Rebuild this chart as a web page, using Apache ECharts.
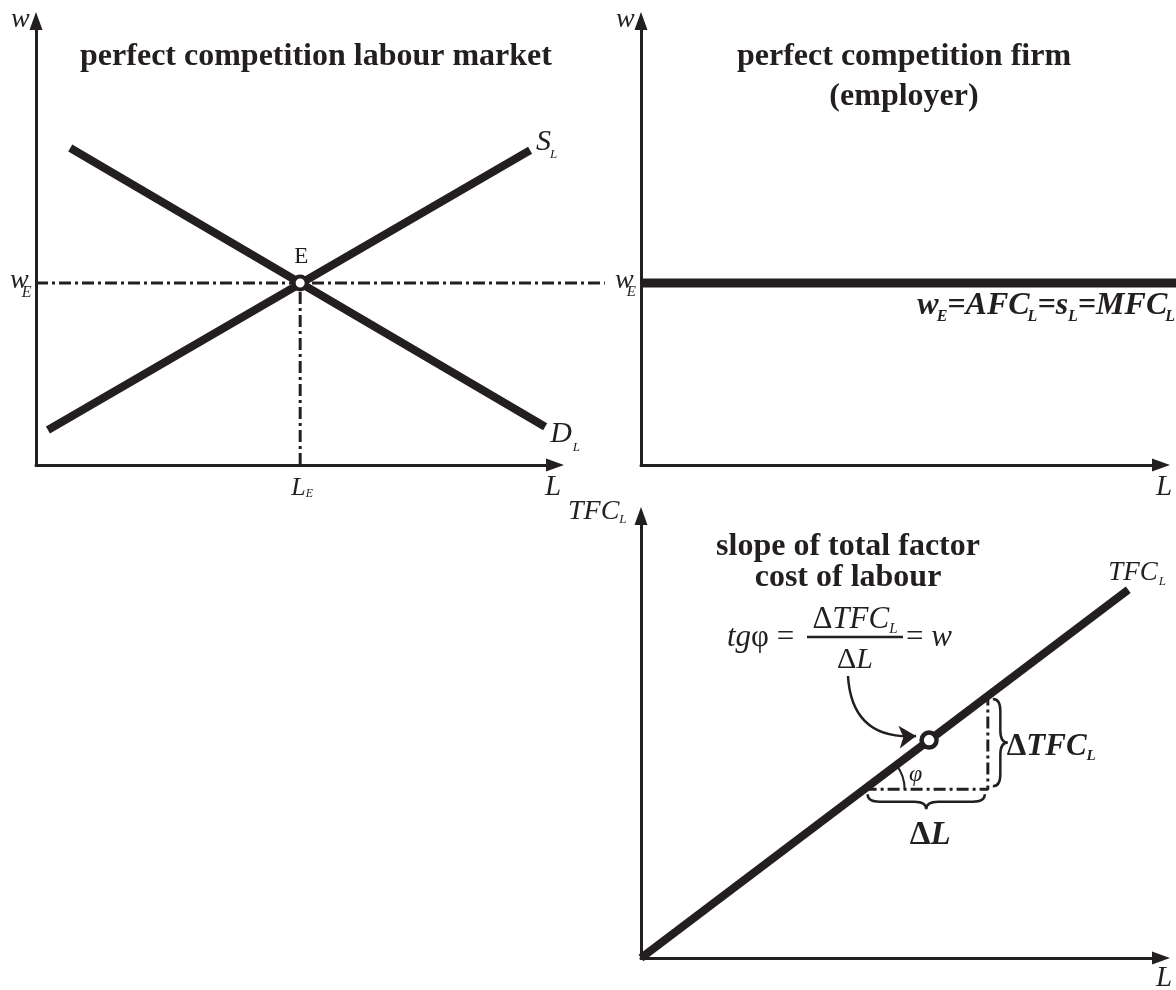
<!DOCTYPE html>
<html><head><meta charset="utf-8">
<script src="https://cdn.jsdelivr.net/npm/echarts@6/dist/echarts.min.js"></script>
<style>html,body{margin:0;padding:0;background:#fff}#c{width:1176px;height:990px}</style>
</head><body><div id="c"></div>
<script>
// ---------- DATA (axis units 0..100 in every panel) ----------
// Panel 1: perfect competition labour market
const L_E = 50.9;
const w_E = 41.0;
const supplyL = [[2.3, 7.9], [95.2, 70.9]];
const demandL = [[6.6, 71.4], [98.1, 8.6]];
const guideEnd = 109.6;               // horizontal guide runs on into panel 2
// Panel 2: perfect competition firm
const firmWage = [[0, w_E], [104, w_E]];
// Panel 3: total factor cost of labour
const tfcLine = [[0, 0], [93.7, 83.3]];
const tfcPoint = [55.4, 49.3];
const dL = [43.0, 66.7];              // ΔL span (x)
const dTFC = [38.2, 59.3];            // ΔTFC span (y)
const arrowCurve = [[39.8, 63.8], [52.9, 50.2]];
const titles = ['perfect competition labour market', 'perfect competition firm', '(employer)', 'slope of total factor', 'cost of labour'];

// ---------- CHART ----------
const INK = '#231f20';
const FAM = '"Liberation Serif", "Times New Roman", serif';
const DASHDOT = [12, 4, 3, 4];
const chart = echarts.init(document.getElementById('c'), null, {renderer: 'canvas'});

const grids = [
  {left: 36, top: 21, width: 519, height: 444},
  {left: 641, top: 21, width: 520, height: 444},
  {left: 641, top: 516, width: 520, height: 442}
];
function ax(i) {
  return {type: 'value', gridIndex: i, min: 0, max: 100,
    axisLine: {show: true, onZero: false, lineStyle: {color: INK, width: 3}, symbol: ['none', 'triangle'], symbolSize: [13, 18]},
    axisTick: {show: false}, axisLabel: {show: false}, splitLine: {show: false}};
}
function lineS(gi, data, width, extra) {
  return Object.assign({type: 'line', xAxisIndex: gi, yAxisIndex: gi, data: data, showSymbol: false, symbol: 'none',
    silent: true, lineStyle: {color: INK, width: width}, z: 3}, extra || {});
}
function dashS(gi, data, extra) {
  return lineS(gi, data, 3, Object.assign({clip: false, z: 2, lineStyle: {color: INK, width: 3, type: DASHDOT}}, extra || {}));
}
// free segment (not clipped to its grid), from a pair of data points
function segS(gi, pts, width, dash) {
  return {type: 'custom', coordinateSystem: 'cartesian2d', xAxisIndex: gi, yAxisIndex: gi, silent: true, clip: false, z: 2,
    data: [[pts[0][0], pts[0][1], pts[1][0], pts[1][1]]], encode: {x: [0, 2], y: [1, 3]},
    renderItem: function (params, api) {
      const a = api.coord([api.value(0), api.value(1)]);
      const b = api.coord([api.value(2), api.value(3)]);
      return {type: 'line', shape: {x1: a[0], y1: a[1], x2: b[0], y2: b[1]},
        style: {stroke: INK, lineWidth: width, lineDash: dash || null, fill: 'none'}};
    }};
}
function braceRender(params, api) {
  const p1 = api.coord([api.value(0), api.value(1)]);
  const p2 = api.coord([api.value(2), api.value(3)]);
  const Lx = p2[0] - p1[0], Ly = p2[1] - p1[1];
  const len = Math.hypot(Lx, Ly);
  const d = [Lx / len, Ly / len], n = [-d[1], d[0]];
  const off = 5, a = 15, inset = 3;
  const r = Math.min(12, len / 4);
  const P = (u, v) => {
    const x = p1[0] + d[0] * u + n[0] * (v + off);
    const y = p1[1] + d[1] * u + n[1] * (v + off);
    return x.toFixed(2) + ',' + y.toFixed(2);
  };
  const u0 = inset, u1 = len - inset, m = len / 2, h = a / 2;
  const path = 'M' + P(u0, 0) + ' Q' + P(u0, h) + ' ' + P(u0 + r, h) + ' L' + P(m - r, h) +
    ' Q' + P(m, h) + ' ' + P(m, a) + ' Q' + P(m, h) + ' ' + P(m + r, h) + ' L' + P(u1 - r, h) +
    ' Q' + P(u1, h) + ' ' + P(u1, 0);
  return {type: 'path', shape: {pathData: path}, style: {stroke: INK, fill: 'none', lineWidth: 2.5}};
}
function arcRender(params, api) {
  const c = api.coord([api.value(0), api.value(1)]);
  const a = api.coord(tfcLine[0]), b = api.coord(tfcLine[1]);
  const ang = Math.atan2(b[1] - a[1], b[0] - a[0]);
  return {type: 'arc', shape: {cx: c[0], cy: c[1], r: 40, startAngle: ang, endAngle: 0, clockwise: true},
    style: {stroke: INK, fill: 'none', lineWidth: 2}};
}

chart.setOption({
  animation: false,
  backgroundColor: '#fff',
  grid: grids.map(g => Object.assign({outerBoundsMode: 'none', containLabel: false}, g)),
  xAxis: [ax(0), ax(1), ax(2)],
  yAxis: [ax(0), ax(1), ax(2)],
  series: [
    segS(0, [[0, w_E], [guideEnd, w_E]], 3, DASHDOT),
    dashS(0, [[L_E, 0], [L_E, w_E]]),
    lineS(0, supplyL, 8),
    lineS(0, demandL, 8),
    {type: 'scatter', xAxisIndex: 0, yAxisIndex: 0, data: [[L_E, w_E]], symbol: 'circle', symbolSize: 13, silent: true, z: 10,
      itemStyle: {color: '#fff', borderColor: INK, borderWidth: 4, opacity: 1}},
    segS(1, firmWage, 9, null),
    lineS(2, tfcLine, 8),
    dashS(2, [[dL[0], dTFC[0]], [dL[1], dTFC[0]], [dL[1], dTFC[1]]]),
    {type: 'scatter', xAxisIndex: 2, yAxisIndex: 2, data: [tfcPoint], symbol: 'circle', symbolSize: 15, silent: true, z: 10,
      itemStyle: {color: '#fff', borderColor: INK, borderWidth: 4.5, opacity: 1}},
    {type: 'lines', coordinateSystem: 'cartesian2d', xAxisIndex: 2, yAxisIndex: 2, data: [{coords: arrowCurve}],
      symbol: ['none', 'arrow'], symbolSize: [11, 17], silent: true, z: 6,
      lineStyle: {color: INK, width: 2.5, curveness: -0.5, opacity: 1}},
    {type: 'custom', coordinateSystem: 'cartesian2d', xAxisIndex: 2, yAxisIndex: 2, silent: true, z: 5,
      data: [[dL[0], dTFC[0], dL[1], dTFC[0]], [dL[1], dTFC[0], dL[1], dTFC[1]]],
      encode: {x: [0, 2], y: [1, 3]}, renderItem: braceRender},
    {type: 'custom', coordinateSystem: 'cartesian2d', xAxisIndex: 2, yAxisIndex: 2, silent: true, z: 5,
      data: [[dL[0], dTFC[0]]], encode: {x: 0, y: 1}, renderItem: arcRender}
  ]
});

// ---------- TEXT ----------
const mctx = document.createElement('canvas').getContext('2d');
const STY = {i: ['italic', 'normal'], n: ['normal', 'normal'], b: ['normal', 'bold'], bi: ['italic', 'bold']};
function run(x, y, segs, align) {
  const items = segs.map(s => {
    const [t, size, st, dy = 0, dx = 0] = s;
    const [fs, fw] = STY[st];
    mctx.font = fs + ' ' + fw + ' ' + size + 'px ' + FAM;
    return {t, size, fs, fw, dy, dx, w: mctx.measureText(t).width};
  });
  const total = items.reduce((acc, s) => acc + s.w + s.dx, 0);
  let cx = align === 'center' ? x - total / 2 : align === 'right' ? x - total : x;
  return items.map(s => {
    cx += s.dx;
    const el = {type: 'text', x: cx, y: y + s.dy, silent: true, z: 100,
      style: {text: s.t, fontSize: s.size, fontFamily: FAM, fontStyle: s.fs, fontWeight: s.fw, fill: INK,
        align: 'left', verticalAlign: 'middle', textAlign: 'left', textVerticalAlign: 'middle'}};
    cx += s.w;
    return el;
  });
}
const px = (gi, pt) => chart.convertToPixel({gridIndex: gi}, pt);
let els = [];
// titles
els = els.concat(run(316, 57, [[titles[0], 32, 'b']], 'center'));
els = els.concat(run(904, 57, [[titles[1], 32, 'b']], 'center'));
els = els.concat(run(904, 97, [[titles[2], 32, 'b']], 'center'));
els = els.concat(run(848, 547, [[titles[3], 32, 'b']], 'center'));
els = els.concat(run(848, 578, [[titles[4], 32, 'b']], 'center'));
// panel 1
let p;
els = els.concat(run(11, 20, [['w', 28, 'i']]));
p = px(0, [0, w_E]);
els = els.concat(run(p[0] - 26, p[1] - 2, [['w', 28, 'i'], ['E', 16, 'i', 12, -7]]));
p = px(0, [L_E, w_E]);
els = els.concat(run(p[0] + 1, p[1] - 26, [['E', 23, 'n']], 'center'));
p = px(0, supplyL[1]);
els = els.concat(run(p[0] + 6, p[1] - 8, [['S', 30, 'i'], ['L', 13, 'i', 12, -1]]));
p = px(0, demandL[1]);
els = els.concat(run(p[0] + 5, p[1] + 7, [['D', 30, 'i'], ['L', 13, 'i', 14, 1]]));
els = els.concat(run(545, 487, [['L', 29, 'i']]));
p = px(0, [L_E, 0]);
els = els.concat(run(p[0] + 2, p[1] + 23, [['L', 26, 'i'], ['E', 12, 'i', 6, 0]], 'center'));
// panel 2
els = els.concat(run(616, 20, [['w', 28, 'i']]));
p = px(1, [0, w_E]);
els = els.concat(run(p[0] - 26, p[1] - 2, [['w', 28, 'i'], ['E', 15, 'i', 11, -7]]));
els = els.concat(run(1156, 487, [['L', 29, 'i']]));
els = els.concat(run(1175, 306, [['w', 32, 'bi'], ['E', 16, 'bi', 11, -2], ['=AFC', 32, 'bi'], ['L', 16, 'bi', 11, -2],
  ['=s', 32, 'bi'], ['L', 16, 'bi', 11, 0], ['=MFC', 32, 'bi'], ['L', 16, 'bi', 11, -2]], 'right'));
// panel 3
els = els.concat(run(568, 512, [['TFC', 28, 'i'], ['L', 13, 'i', 8, 0]]));
p = px(2, tfcLine[1]);
els = els.concat(run(p[0] - 20, p[1] - 17, [['TFC', 27, 'i'], ['L', 13, 'i', 9, 1]]));
els = els.concat(run(1156, 978, [['L', 29, 'i']]));
// formula
els = els.concat(run(727, 638, [['tg', 31, 'i'], ['φ', 31, 'n'], [' = ', 31, 'n']]));
els = els.concat(run(855, 620, [['Δ', 31, 'n'], ['TFC', 31, 'i'], ['L', 15, 'i', 9, 0]], 'center'));
els.push({type: 'line', silent: true, z: 100, shape: {x1: 807, y1: 637, x2: 903, y2: 637}, style: {stroke: INK, lineWidth: 2.5}});
els = els.concat(run(855, 660, [['Δ', 30, 'n'], ['L', 30, 'i']], 'center'));
els = els.concat(run(906, 638, [['= ', 31, 'n'], ['w', 31, 'i']]));
// angle / increments
p = px(2, [dL[0], dTFC[0]]);
els = els.concat(run(p[0] + 51, p[1] - 14, [['φ', 24, 'i']], 'center'));
p = px(2, [(dL[0] + dL[1]) / 2, dTFC[0]]);
els = els.concat(run(p[0] + 4, p[1] + 46, [['Δ', 33, 'b'], ['L', 33, 'bi']], 'center'));
p = px(2, [dL[1], (dTFC[0] + dTFC[1]) / 2]);
els = els.concat(run(p[0] + 19, p[1] + 4, [['Δ', 31, 'b'], ['TFC', 31, 'bi'], ['L', 15, 'bi', 10, 0]]));

chart.setOption({graphic: {elements: els}});
</script></body></html>
